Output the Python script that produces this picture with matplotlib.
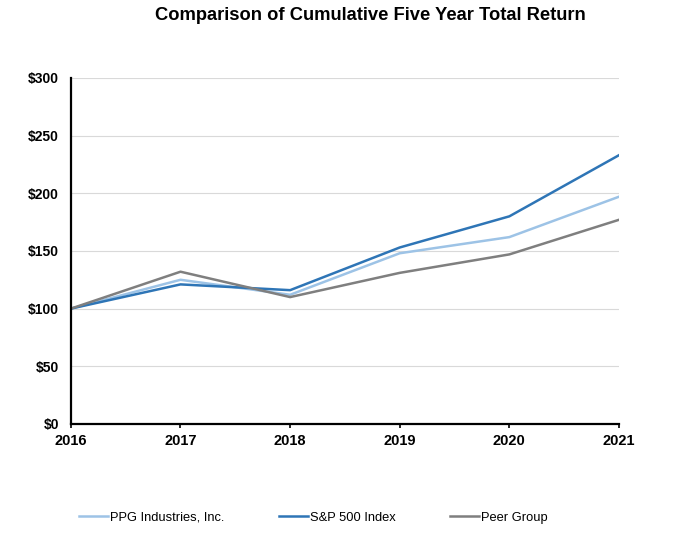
import matplotlib
matplotlib.use("Agg")
from matplotlib import pyplot as plt

plt.rcParams['font.family'] = ['Liberation Sans', 'DejaVu Sans']

years = [2016, 2017, 2018, 2019, 2020, 2021]
ppg = [100, 125, 112, 148, 162, 197]
sp500 = [100, 121, 116, 153, 180, 233]
peer = [100, 132, 110, 131, 147, 177]
yticks = [0, 50, 100, 150, 200, 250, 300]

fig = plt.figure(figsize=(6.75, 5.41), dpi=100)
ax = fig.add_axes([0.105, 0.2163, 0.812, 0.6397])

ax.plot(years, ppg, color="#9dc3e6", lw=1.8, label="PPG Industries, Inc.")
ax.plot(years, sp500, color="#2e75b6", lw=1.8, label="S&P 500 Index")
ax.plot(years, peer, color="#7f7f7f", lw=1.8, label="Peer Group")

ax.set_xlim(2016, 2021)
ax.set_ylim(0, 300)
ax.set_yticks(yticks)
ax.set_yticklabels(["$" + str(v) for v in yticks], fontweight="bold", fontsize=10)
ax.set_xticks(years)
ax.set_xticklabels([str(y) for y in years], fontweight="bold", fontsize=10.5)
ax.tick_params(axis="y", length=0, pad=8.5)
ax.tick_params(axis="x", length=3, width=1.2, pad=4, color="black")
ax.grid(axis="y", color="#d9d9d9", lw=0.8)
ax.set_axisbelow(True)
for s in ["top", "right"]:
    ax.spines[s].set_visible(False)
ax.spines["left"].set_linewidth(1.6)
ax.spines["bottom"].set_linewidth(1.6)

fig.text(0.548, 0.972, "Comparison of Cumulative Five Year Total Return",
         ha="center", va="center", fontsize=13.2, fontweight="bold")

fig.legend(loc="center", bbox_to_anchor=(0.4645, 0.043), ncol=3, frameon=False,
           fontsize=9.3, handlelength=2.25, handletextpad=0.15, columnspacing=4.2)

plt.savefig("out.png", dpi=100)
